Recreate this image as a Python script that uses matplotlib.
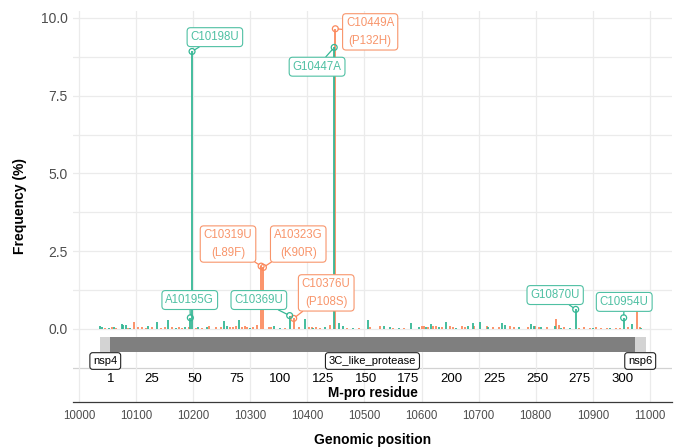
import matplotlib.pyplot as plt
import numpy as np

plt.rcParams['font.family'] = ['Liberation Sans', 'DejaVu Sans']

# synonymous (teal) and non-synonymous (orange) mutation frequencies
syn_pos = [10037, 10040, 10052, 10062, 10075, 10077, 10082, 10090, 10121, 10136,
           10156, 10170, 10185, 10195, 10198, 10208, 10225, 10254, 10260, 10281,
           10300, 10342, 10352, 10369, 10396, 10410, 10431, 10447, 10455, 10462,
           10480, 10507, 10535, 10544, 10560, 10582, 10596, 10608, 10617, 10630,
           10643, 10660, 10681, 10690, 10703, 10717, 10741, 10747, 10770, 10791,
           10797, 10810, 10833, 10845, 10860, 10870, 10900, 10930, 10954, 10968,
           10985]
syn_freq = [0.11, 0.06, 0.03, 0.05, 0.16, 0.14, 0.13, 0.04, 0.10, 0.24,
            0.29, 0.04, 0.06, 0.36, 8.92, 0.05, 0.05, 0.26, 0.08, 0.29,
            0.03, 0.10, 0.04, 0.43, 0.32, 0.03, 0.05, 9.05, 0.18, 0.08,
            0.04, 0.29, 0.08, 0.06, 0.03, 0.18, 0.05, 0.06, 0.15, 0.05,
            0.21, 0.04, 0.10, 0.18, 0.24, 0.07, 0.20, 0.12, 0.05, 0.15,
            0.10, 0.06, 0.10, 0.04, 0.03, 0.63, 0.03, 0.03, 0.36, 0.15,
            0.03]

nonsyn_pos = [10045, 10057, 10065, 10086, 10097, 10104, 10110, 10118, 10128, 10143,
              10150, 10163, 10175, 10180, 10192, 10205, 10215, 10228, 10240, 10248,
              10265, 10270, 10275, 10285, 10290, 10295, 10305, 10312, 10319, 10323,
              10332, 10337, 10360, 10376, 10385, 10403, 10408, 10415, 10422, 10440,
              10449, 10470, 10490, 10510, 10527, 10550, 10570, 10600, 10605, 10612,
              10620, 10625, 10635, 10650, 10655, 10670, 10676, 10692, 10715, 10725,
              10735, 10755, 10762, 10787, 10798, 10805, 10820, 10835, 10840, 10850,
              10875, 10885, 10895, 10905, 10915, 10925, 10940, 10948, 10962, 10978,
              10983]
nonsyn_freq = [0.03, 0.05, 0.04, 0.03, 0.24, 0.06, 0.05, 0.04, 0.06, 0.04,
               0.05, 0.07, 0.05, 0.04, 0.05, 0.04, 0.03, 0.10, 0.05, 0.06,
               0.07, 0.05, 0.08, 0.06, 0.09, 0.05, 0.06, 0.12, 2.02, 1.98,
               0.05, 0.06, 0.04, 0.34, 0.05, 0.06, 0.05, 0.07, 0.04, 0.12,
               9.65, 0.03, 0.04, 0.06, 0.10, 0.04, 0.03, 0.08, 0.10, 0.07,
               0.11, 0.09, 0.06, 0.10, 0.05, 0.09, 0.06, 0.08, 0.10, 0.05,
               0.06, 0.08, 0.07, 0.06, 0.10, 0.05, 0.06, 0.32, 0.12, 0.05,
               0.04, 0.05, 0.03, 0.05, 0.04, 0.03, 0.04, 0.03, 0.05, 0.63,
               0.06]

# labelled mutations
lab_text = ["C10198U", "G10447A", "C10449A\n(P132H)", "C10319U\n(L89F)",
            "A10323G\n(K90R)", "C10376U\n(P108S)", "C10369U", "A10195G",
            "G10870U", "C10954U"]
lab_pos = [10198, 10447, 10449, 10319, 10323, 10376, 10369, 10195, 10870, 10954]
lab_freq = [8.92, 9.05, 9.65, 2.02, 1.98, 0.34, 0.43, 0.36, 0.63, 0.36]
lab_syn = [True, True, False, False, False, False, True, True, True, True]
# where the repelled label boxes sit (data coords)
lab_xy = [(10238, 9.38), (10417, 8.43), (10510, 9.55), (10261, 2.73),
          (10384, 2.73), (10433, 1.16), (10315, 0.93), (10194, 0.93),
          (10834, 1.09), (10955, 0.87)]

# gene track
genes = ["nsp4", "3C_like_protease", "nsp6"]
gene_start = [10037, 10055, 10973]
gene_end = [10055, 10973, 10993]
gene_fill = ["#d3d3d3", "#7f7f7f", "#d3d3d3"]

# M-pro residue axis
residues = [1, 25, 50, 75, 100, 125, 150, 175, 200, 225, 250, 275, 300]
mpro_start = 10055

TEAL = "#35b795"
ORANGE = "#fb8a5e"
TEAL_L = "#4fc0a3"
ORANGE_L = "#f8956b"

fig = plt.figure(figsize=(6.78, 4.48), dpi=100)
ax = fig.add_axes([0.1077, 0.1027, 0.8833, 0.8727])
ax.set_xlim(9989.5, 11038.5)
ax.set_ylim(-2.347, 10.22)

# grid
for y in np.arange(0, 10.01, 1.25):
    ax.axhline(y, color="#ebebeb", lw=0.9, zorder=0)
ax.axhline(-1.25, color="#d2d2d2", lw=0.9, zorder=0)
for x in range(10000, 11001, 100):
    ax.axvline(x, color="#ebebeb", lw=0.9, zorder=0)

# bars
ax.vlines(nonsyn_pos, 0, nonsyn_freq, color=ORANGE, lw=1.3, zorder=2)
ax.vlines(syn_pos, 0, syn_freq, color=TEAL, lw=1.3, zorder=2)

# gene track
for s, e, c in zip(gene_start, gene_end, gene_fill):
    ax.fill_between([s, e], -0.74, -0.25, color=c, lw=0, zorder=3)
for g, s, e in zip(genes, gene_start, gene_end):
    ax.text((s + e) / 2, -1.03, g, ha="center", va="center", fontsize=8,
            color="black", zorder=6,
            bbox=dict(boxstyle="round,pad=0.3,rounding_size=0.25",
                      fc="white", ec="#222222", lw=0.8))

# residue axis
for r in residues:
    ax.text(mpro_start + 3 * (r - 1), -1.62, str(r), ha="center", va="center",
            fontsize=9.5, color="black")
ax.text((gene_start[1] + gene_end[1]) / 2, -2.07, "M-pro residue",
        ha="center", va="center", fontsize=9.8, fontweight="bold")

# labels
for t, x, f, syn, xy in zip(lab_text, lab_pos, lab_freq, lab_syn, lab_xy):
    c = TEAL if syn else ORANGE
    cl = TEAL_L if syn else ORANGE_L
    ax.scatter([x], [f], s=18, facecolors="none", edgecolors=c, lw=0.9, zorder=4)
    ax.annotate(t, xy=(x, f), xytext=xy, ha="center", va="center",
                fontsize=8.3, color=cl, linespacing=1.6, zorder=7,
                bbox=dict(boxstyle="round,pad=0.3,rounding_size=0.3",
                          fc="white", ec=cl, lw=0.8),
                arrowprops=dict(arrowstyle="-", color=c, lw=0.9,
                                shrinkA=0, shrinkB=2))

# axes styling
for s in ["top", "right", "left"]:
    ax.spines[s].set_visible(False)
ax.spines["bottom"].set_color("#3a3a3a")
ax.spines["bottom"].set_linewidth(0.9)
ax.set_xticks(range(10000, 11001, 100))
ax.set_yticks([0, 2.5, 5, 7.5, 10])
ax.set_yticklabels(["0.0", "2.5", "5.0", "7.5", "10.0"])
ax.tick_params(axis="x", length=0, pad=6, labelsize=8.3, labelcolor="#4d4d4d")
ax.tick_params(axis="y", length=0, pad=4, labelsize=10, labelcolor="#4d4d4d")

fig.text(372.5 / 678, 1 - 440 / 448, "Genomic position", ha="center",
         va="center", fontsize=10, fontweight="bold")
fig.text(20 / 678, 1 - 206 / 448, "Frequency (%)", ha="center", va="center",
         rotation=90, fontsize=10, fontweight="bold")

fig.savefig("out.png", dpi=100)
